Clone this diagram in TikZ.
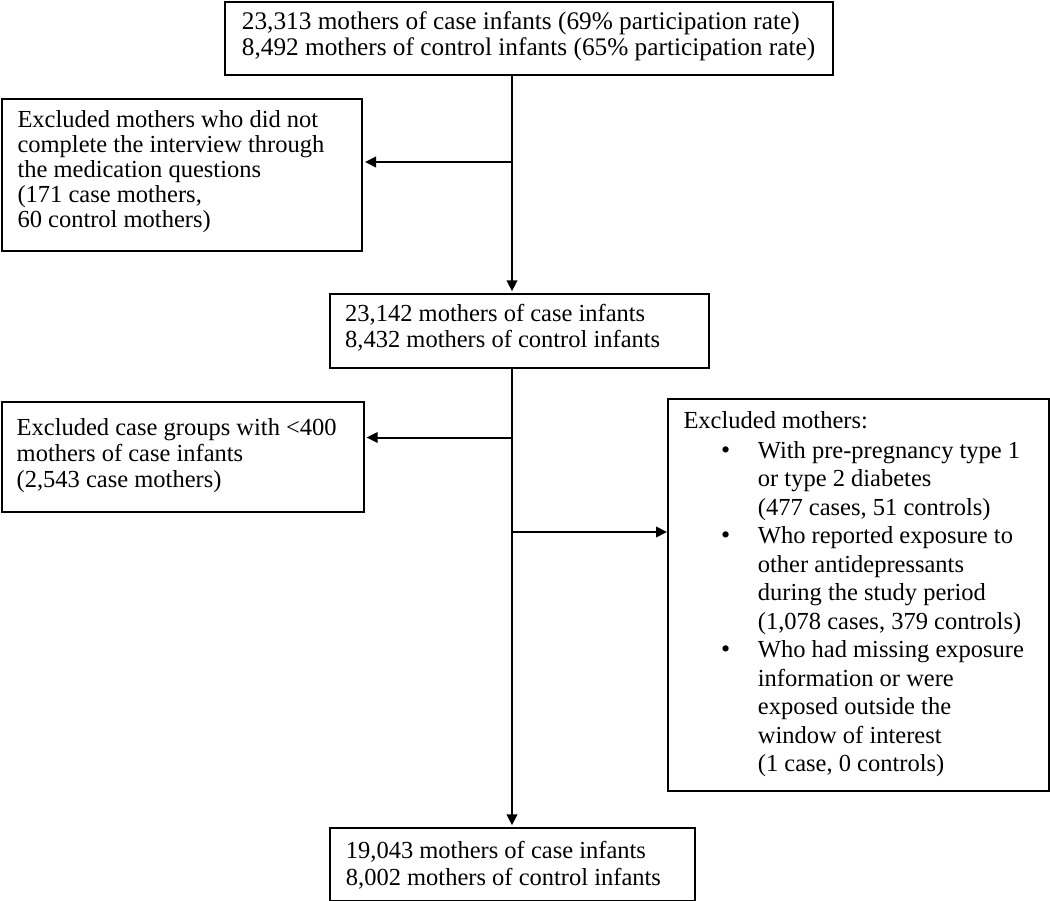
\documentclass[tikz,border=0pt]{standalone}
\usepackage{fontspec}
\setmainfont{Liberation Serif}
\usetikzlibrary{arrows.meta}
\newcommand{\mylines}[1]{\begin{tabular}[t]{@{}l@{}}#1\end{tabular}}
\begin{document}
\begin{tikzpicture}[x=1pt,y=-1pt,
  box/.style={draw=black, line width=2pt, inner sep=0pt, anchor=north west},
  txt/.style={inner sep=0pt, anchor=base west, text=black},
  arr/.style={line width=2pt, -{Triangle[length=11pt,width=10.5pt]}, shorten >=2pt}]
\useasboundingbox[fill=white] (0,0) rectangle (1050,901);
% boxes
\node[box, minimum width=608pt, minimum height=73pt] (b1) at (224,1) {};
\node[box, minimum width=360pt, minimum height=152.3pt] (b2) at (1,97.7) {};
\node[box, minimum width=378.7pt, minimum height=73.7pt] (b3) at (329.3,293.3) {};
\node[box, minimum width=361.6pt, minimum height=110.4pt] (b4) at (1,400.6) {};
\node[box, minimum width=380.5pt, minimum height=392.3pt] (b5) at (667,397.7) {};
\node[box, minimum width=365pt, minimum height=72.7pt] (b6) at (329.3,827.3) {};
% texts
\node[txt, font=\fontsize{25.3}{26.5}\selectfont] (t1) at (241.7,29.5) {\mylines{23,313 mothers of case infants (69\% participation rate)\\8,492 mothers of control infants (65\% participation rate)}};
\node[txt, font=\fontsize{24.5}{25}\selectfont] (t2) at (17.3,128) {\mylines{Excluded mothers who did not\\complete the interview through\\the medication questions\\(171 case mothers,\\60 control mothers)}};
\node[txt, font=\fontsize{24.5}{25.5}\selectfont] (t3) at (345,322) {\mylines{23,142 mothers of case infants\\8,432 mothers of control infants}};
\node[txt, font=\fontsize{24.5}{26}\selectfont] (t4) at (16.5,435) {\mylines{Excluded case groups with <400\\mothers of case infants\\(2,543 case mothers)}};
\node[txt, font=\fontsize{24.5}{28.5}\selectfont] (t5) at (683.3,428.3) {Excluded mothers:};
\node[txt, font=\fontsize{24.5}{28.5}\selectfont] (t5b) at (757.7,458.3) {\mylines{With pre-pregnancy type 1\\or type 2 diabetes\\(477 cases, 51 controls)\\Who reported exposure to\\other antidepressants\\during the study period\\(1,078 cases, 379 controls)\\Who had missing exposure\\information or were\\exposed outside the\\window of interest\\(1 case, 0 controls)}};
\node[inner sep=0pt, anchor=base, font=\fontsize{26}{28.5}\selectfont] (d1) at (725.7,458.3) {\textbullet};
\node[inner sep=0pt, anchor=base, font=\fontsize{26}{28.5}\selectfont] (d2) at (725.7,543.8) {\textbullet};
\node[inner sep=0pt, anchor=base, font=\fontsize{26}{28.5}\selectfont] (d3) at (725.7,657.8) {\textbullet};
\node[txt, font=\fontsize{24.5}{26.7}\selectfont] (t6) at (345.7,858.3) {\mylines{19,043 mothers of case infants\\8,002 mothers of control infants}};
% connectors
\coordinate (tx) at (512,0);
\coordinate (j1) at (512,162);
\coordinate (j2) at (512,437.5);
\coordinate (j3) at (512,532);
\draw[arr] (b1.south -| tx) -- (b3.north -| tx);
\draw[arr] (j1) -- (j1 -| b2.east);
\draw[arr] (b3.south -| tx) -- (b6.north -| tx);
\draw[arr] (j2) -- (j2 -| b4.east);
\draw[arr, shorten >=0pt] (j3) -- (j3 -| b5.west);
\end{tikzpicture}
\end{document}
